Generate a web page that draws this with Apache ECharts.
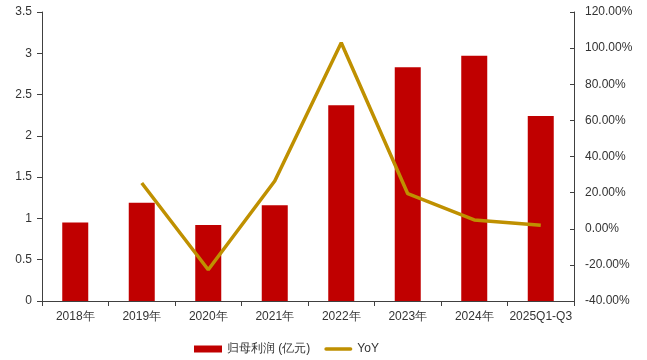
<!DOCTYPE html>
<html>
<head>
<meta charset="utf-8">
<script src="https://cdn.jsdelivr.net/npm/echarts@6/dist/echarts.min.js"></script>
<style>
  html, body { margin: 0; padding: 0; background: #fff; }
  #chart { width: 647px; height: 360px; }
</style>
</head>
<body>
<div id="chart"></div>
<script>
// Net profit attributable to parent (100M CNY) and year-on-year growth
const categories = ['2018年', '2019年', '2020年', '2021年', '2022年', '2023年', '2024年', '2025Q1-Q3'];
const profit = [0.95, 1.19, 0.92, 1.16, 2.37, 2.83, 2.97, 2.24];
const yoy = [null, 25.3, -22.7, 26.4, 103.0, 19.4, 4.9, 2.0];
const leftTicks = { min: 0, max: 3.5, interval: 0.5 };
const rightTicks = { min: -40, max: 120, interval: 20 };

const font = 'Liberation Sans, Arial, sans-serif';
const axisColor = '#404040';
const textColor = '#333333';

const chart = echarts.init(document.getElementById('chart'), null, { renderer: 'canvas' });
chart.setOption({
  animation: false,
  textStyle: { fontFamily: font },
  grid: { left: 42, right: 73, top: 12, bottom: 59, containLabel: false },
  legend: {
    bottom: 0,
    left: 189,
    itemGap: 14,
    itemWidth: 28,
    itemHeight: 7,
    textStyle: { fontFamily: font, fontSize: 12, color: textColor },
    data: [
      { name: '归母利润 (亿元)', icon: 'rect' },
      { name: 'YoY', icon: 'path://M2,0 L30,0 A2,2 0 0 1 30,4 L2,4 A2,2 0 0 1 2,0 Z' }
    ]
  },
  xAxis: {
    type: 'category',
    data: categories,
    axisLine: { lineStyle: { color: axisColor, width: 1 } },
    axisTick: { show: true, length: 5, alignWithLabel: false, lineStyle: { color: axisColor } },
    axisLabel: { color: textColor, fontSize: 12, margin: 10, interval: 0 },
    splitLine: { show: false }
  },
  yAxis: [
    {
      type: 'value',
      min: leftTicks.min, max: leftTicks.max, interval: leftTicks.interval,
      axisLine: { show: true, lineStyle: { color: axisColor } },
      axisTick: { show: true, length: 5, lineStyle: { color: axisColor } },
      axisLabel: { color: textColor, fontSize: 12, margin: 10 },
      splitLine: { show: false }
    },
    {
      type: 'value',
      position: 'right',
      min: rightTicks.min, max: rightTicks.max, interval: rightTicks.interval,
      axisLine: { show: true, lineStyle: { color: axisColor } },
      axisTick: { show: true, inside: true, length: 4, lineStyle: { color: axisColor } },
      axisLabel: { color: textColor, fontSize: 12, margin: 11, formatter: v => v.toFixed(2) + '%' },
      splitLine: { show: false }
    }
  ],
  series: [
    {
      name: '归母利润 (亿元)',
      type: 'bar',
      data: profit,
      barWidth: 26,
      itemStyle: { color: '#C00000' }
    },
    {
      name: 'YoY',
      type: 'line',
      yAxisIndex: 1,
      data: yoy,
      symbol: 'none',
      lineStyle: { color: '#BF9000', width: 3.5 },
      itemStyle: { color: '#BF9000' }
    }
  ]
});
</script>
</body>
</html>
